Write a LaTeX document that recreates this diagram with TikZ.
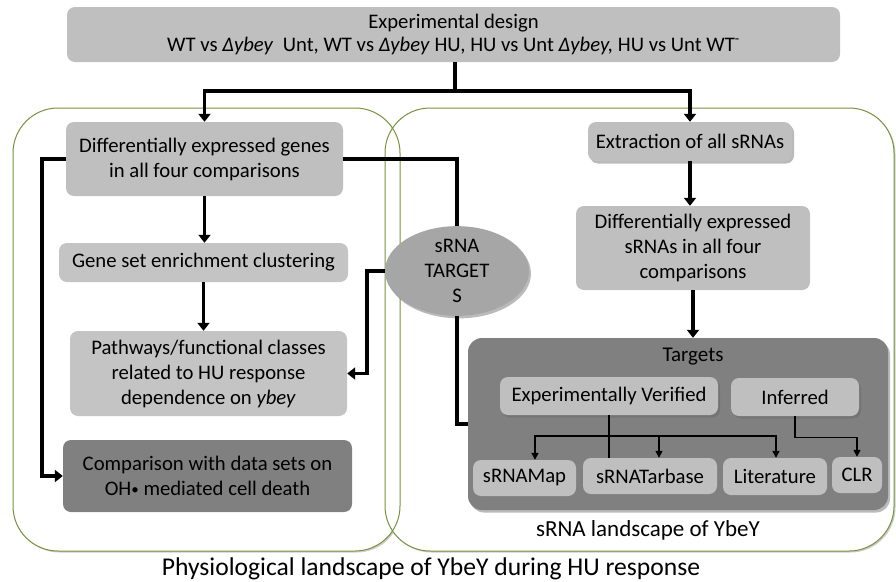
\documentclass[tikz,border=0pt]{standalone}
\usepackage{fontspec}
\setmainfont{Carlito}
\usetikzlibrary{arrows.meta,shadows,calc,shapes.geometric}
\definecolor{boxgray}{HTML}{BFBFBF}
\definecolor{boxlight}{HTML}{C4C4C4}
\definecolor{boxdark}{HTML}{808080}
\definecolor{ellgray}{HTML}{A6A6A6}
\definecolor{olive}{HTML}{77933C}
\tikzset{
  bx/.style={rectangle, rounded corners=8pt, fill=boxgray, draw=none, align=center,
    inner sep=0pt, font=\fontsize{20.7}{25}\selectfont, text=black},
  shd/.style={drop shadow={shadow xshift=2pt, shadow yshift=-2.5pt, opacity=0.45, fill=black!60}},
  frame/.style={draw=olive, line width=1pt, rounded corners=45pt},
  thk/.style={line width=3.4pt, -{Triangle[width=12pt,length=8pt]}},
  thkn/.style={line width=3.4pt},
  thn/.style={line width=1.4pt, -{Triangle[width=7pt,length=7pt]}},
  thnn/.style={line width=1.4pt},
  cap/.style={font=\fontsize{#1}{#1}\selectfont, inner sep=0pt}
}
\begin{document}
\begin{tikzpicture}[x=1pt,y=-1pt]
\useasboundingbox (0,0) rectangle (896,581);
\fill[white] (0,0) rectangle (896,581);
% frames: faint shadow, then outlines
\fill[black!20, rounded corners=45pt] (14.5,109.5) rectangle (401.5,552.5);
\fill[black!20, rounded corners=45pt] (386.5,109.5) rectangle (895.5,552.5);
\fill[white, rounded corners=45pt] (13,108) rectangle (400,551);
\fill[white, rounded corners=45pt] (385,108) rectangle (894,551);
\draw[frame] (13,108) rectangle (400,551);
\draw[frame] (385,108) rectangle (894,551);

% top
\node[bx, minimum width=773pt, minimum height=55pt, font=\fontsize{20.7}{23}\selectfont] (top) at (453.5,34.5)
  {Experimental design\\WT vs \textit{Δybey}\ \ Unt, WT vs \textit{Δybey} HU, HU vs Unt \textit{Δybey,} HU vs Unt WT\textsuperscript{-}};

% left column
\node[bx, minimum width=277pt, minimum height=74pt] (deg) at (204.5,159) {Differentially expressed genes\\in all four comparisons};
\node[bx, fill=boxlight, minimum width=289pt, minimum height=39pt] (gse) at (203.5,262.5) {Gene set enrichment clustering};
\node[bx, fill=boxlight, minimum width=277pt, minimum height=85pt] (path) at (208.5,373.5) {Pathways/functional classes\\related to HU response\\dependence on \textit{ybey}};
\node[bx, fill=boxdark, minimum width=289pt, minimum height=72pt] (comp) at (207.5,476) {Comparison with data sets on\\OH{\fontsize{15}{15}\selectfont\raisebox{1.5pt}{•}} mediated cell death};

% ellipse
\node[ellipse, shd, fill=ellgray, minimum width=144pt, minimum height=82pt, inner sep=0pt, align=center,
  font=\fontsize{20.7}{25}\selectfont] (ell) at (457,271) {sRNA\\TARGET\\S};

% right column
\node[bx, shd, minimum width=204pt, minimum height=39pt] (ext) at (690,141.5) {Extraction of all sRNAs};
\node[bx, minimum width=234pt, minimum height=84pt] (desr) at (693,248) {Differentially expressed\\sRNAs in all four\\comparisons};
\node[bx, shd, fill=boxdark, rounded corners=14pt, minimum width=420pt, minimum height=172pt] (targ) at (678,424) {};
\node[cap=21, anchor=center] (tlab) at (693,357) {Targets};
\node[bx, shd, minimum width=218pt, minimum height=38pt] (ev) at (609,396) {Experimentally Verified};
\node[bx, shd, minimum width=128pt, minimum height=38pt] (inf) at (795,397) {Inferred};
\node[bx, minimum width=103pt, minimum height=36pt] (map) at (524.5,478) {sRNAMap};
\node[bx, minimum width=134pt, minimum height=36pt] (tar) at (650,476) {sRNATarbase};
\node[bx, minimum width=104pt, minimum height=37pt] (lit) at (775,476.5) {Literature};
\node[bx, minimum width=50pt, minimum height=36pt] (clr) at (857,475) {CLR};

% captions
\node[cap=23] (c1) at (648,530) {sRNA landscape of YbeY};
\node[cap=25.6] (c2) at (431,569) {Physiological landscape of YbeY during HU response};

% connectors
\coordinate (j) at (455,91);
\draw[thkn] (top.south -| j) -- (j);
\draw[thk] (j) -| (deg.north);
\draw[thk] (j) -| (ext.north);
\draw[thk] (deg.south) -- (deg.south |- gse.north);
\draw[thk] (gse.south) -- (gse.south |- path.north);
\draw[thk] (deg.west) -- ++(-24,0) |- (comp.west);
\draw[thkn] (deg.east) -| (ell.north);
\draw[thk] (ell.west) -- ++(-18,0) |- (path.east);
\draw[thkn] (ell.south) |- (targ.west);
\draw[thk] (ext.south) -- (ext.south |- desr.north);
\draw[thk] (desr.south) -- (desr.south |- targ.north);

\coordinate (h) at (609,436);
\draw[thnn] (ev.south) -- (ev.south |- tar.north);
\draw[thn] (h) -| (map.north -| 535,0);
\draw[thn] (h) -| (tar.north -| 659,0);
\draw[thn] (h) -| (lit.north -| 776,0);
\draw[thn] (inf.south) -- ++(0,21) -| (clr.north);
\end{tikzpicture}
\end{document}
